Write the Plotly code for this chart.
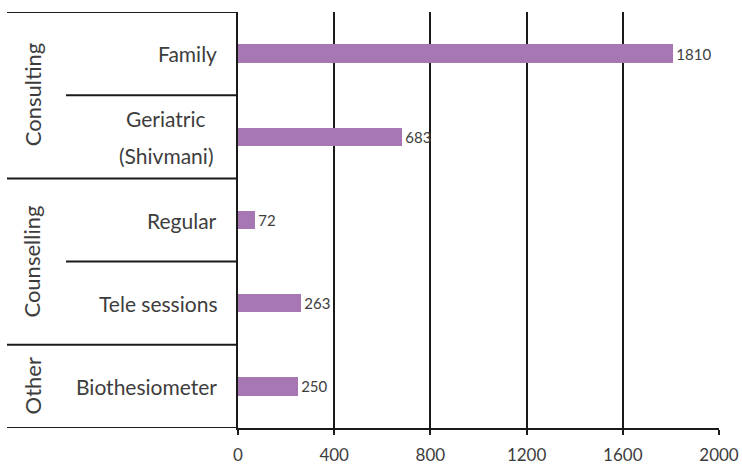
import plotly.graph_objects as go

groups = ["Consulting", "Consulting", "Counselling", "Counselling", "Other"]
categories = ["Family", "Geriatric<br>(Shivmani)", "Regular", "Tele sessions", "Biothesiometer"]
values = [1810, 683, 72, 263, 250]
group_names = ["Consulting", "Counselling", "Other"]
x_ticks = [0, 400, 800, 1200, 1600, 2000]

FONT = "Lato"
TXT = "#3d3d3d"
BAR = "#A777B3"
LINE = "#1a1a1a"

W, H = 742, 468
ML, MR, MT, MB = 238, 23, 12, 40
pw = W - ML - MR
LINE_GAP = 37

def px_to_paper(px):
    return (px - ML) / pw

fig = go.Figure()
fig.add_trace(go.Bar(
    x=values, y=list(range(len(values))), orientation="h",
    marker=dict(color=BAR, line=dict(width=0)),
    width=0.22,
    text=[str(v) for v in values], textposition="outside",
    textfont=dict(family=FONT, size=15, color=TXT, weight=400),
    cliponaxis=False, hoverinfo="skip",
))

shapes = []
annotations = []
n = len(categories)
for i, c in enumerate(categories):
    lines = c.split("<br>")
    m = len(lines)
    for k, ln in enumerate(lines):
        if m == 1:
            xa, xp = "right", px_to_paper(219)
        else:
            xa, xp = "center", px_to_paper(166)
        annotations.append(dict(
            x=xp, xref="paper", y=i, yref="y",
            yshift=-(k - (m - 1) / 2) * LINE_GAP,
            text=ln, showarrow=False, xanchor=xa, yanchor="middle",
            font=dict(family=FONT, size=21, color=TXT, weight=400),
        ))
shapes.append(dict(type="line", xref="paper", yref="y", x0=px_to_paper(7), x1=0,
                   y0=-0.5, y1=-0.5, line=dict(color=LINE, width=2)))
for i in range(1, n + 1):
    if i < n and groups[i] == groups[i - 1]:
        x0 = px_to_paper(66)
    else:
        x0 = px_to_paper(7)
    shapes.append(dict(type="line", xref="paper", yref="y", x0=x0, x1=0,
                       y0=i - 0.5, y1=i - 0.5, line=dict(color=LINE, width=2)))
for g in group_names:
    idx = [i for i, gg in enumerate(groups) if gg == g]
    mid = (idx[0] + idx[-1]) / 2
    annotations.append(dict(
        x=px_to_paper(32), xref="paper", y=mid, yref="y",
        text=g, showarrow=False, textangle=-90, xanchor="center", yanchor="middle",
        font=dict(family=FONT, size=22, color=TXT, weight=400),
    ))

fig.update_layout(
    width=W, height=H,
    margin=dict(l=ML, r=MR, t=MT, b=MB, autoexpand=False),
    paper_bgcolor="white", plot_bgcolor="white",
    showlegend=False,
    shapes=shapes, annotations=annotations,
    bargap=0,
    xaxis=dict(
        range=[0, 2000], tickvals=x_ticks, ticktext=[str(t) for t in x_ticks],
        showgrid=True, gridcolor=LINE, gridwidth=2,
        showline=True, linecolor=LINE, linewidth=2,
        ticks="outside", ticklen=5, tickcolor=LINE, tickwidth=2,
        tickfont=dict(family=FONT, size=17, color=TXT, weight=400),
        ticklabelstandoff=6, zeroline=False, fixedrange=True, automargin=False,
    ),
    yaxis=dict(
        range=[n - 0.5, -0.5], showticklabels=False, showgrid=False,
        showline=True, linecolor=LINE, linewidth=2, zeroline=False, ticks="",
        fixedrange=True, automargin=False,
    ),
)

fig.write_html("out.html", config={"staticPlot": True},
               post_script="document.body.style.margin='0';document.body.style.padding='0';")
